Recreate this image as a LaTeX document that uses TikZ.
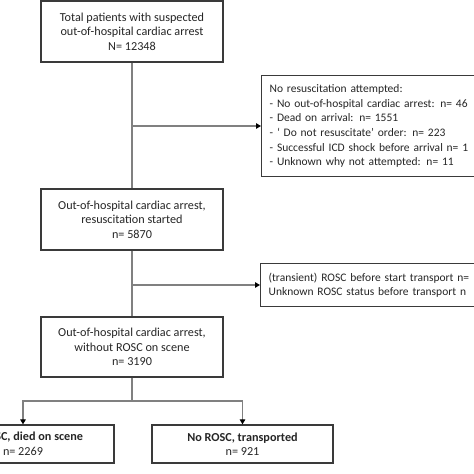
\documentclass[tikz,border=0pt]{standalone}
\usepackage{fontspec}
\setmainfont{Carlito}
\usetikzlibrary{arrows.meta}
\definecolor{conn}{HTML}{808080}
\definecolor{bord}{HTML}{3A3A3A}
\begin{document}
\begin{tikzpicture}[x=1pt,y=-1pt,
  box/.style={draw=bord,line width=1.3pt,fill=white,inner sep=0pt,align=center,
    font=\fontsize{12.2}{14.5}\selectfont,text=black!85},
  lbox/.style={draw=bord,line width=1.3pt,fill=white,inner xsep=8pt,inner ysep=0pt,align=left,
    anchor=north west,font=\fontsize{11.5}{14.7}\selectfont,text=black!85},
  conline/.style={draw=conn,line width=1.2pt},
  arr/.style={conline,-{Triangle[length=5pt,width=5.5pt,color=black]}}]
\useasboundingbox (0,0) rectangle (474,474);
\clip (0,0) rectangle (474,474);
\fill[white] (0,0) rectangle (474,474);
% main column
\node[box,minimum width=182pt,minimum height=61pt] (top) at (132,31.5)
  {Total patients with suspected\\out-of-hospital cardiac arrest\\N= 12348};
\node[box,minimum width=182pt,minimum height=61pt] (start) at (132,219.5)
  {Out-of-hospital cardiac arrest,\\resuscitation started\\n= 5870};
\node[box,minimum width=182pt,minimum height=60pt] (norosc) at (132,347)
  {Out-of-hospital cardiac arrest,\\without ROSC on scene\\n= 3190};
% side boxes
\node[lbox,text width=300pt,minimum height=101pt] (nores) at (261,75)
  {No resuscitation attempted:\\
   - No out-of-hospital cardiac arrest: n= 46\\
   - Dead on arrival: n= 1551\\
   - ‘ Do not resuscitate’ order: n= 223\\
   - Successful ICD shock before arrival n= 1\\
   - Unknown why not attempted: n= 11};
\node[lbox,text width=300pt,minimum height=43pt] (rosc) at (260,263)
  {(transient) ROSC before start transport n=\\
   Unknown ROSC status before transport n};
% bottom boxes
\node[box,minimum width=182pt,minimum height=38pt] (died) at (23,444)
  {\textbf{No ROSC, died on scene}\\n= 2269};
\node[box,minimum width=181pt,minimum height=38pt] (transp) at (242.5,444)
  {\textbf{No ROSC, transported}\\n= 921};
% connectors
\coordinate (b1) at (132,126);
\coordinate (b2) at (132,285);
\coordinate (b3) at (132,401);
\draw[conline] (top.south) -- (start.north);
\draw[arr] (b1) -- (b1 -| nores.west);
\draw[conline] (start.south) -- (norosc.north);
\draw[arr] (b2) -- (b2 -| rosc.west);
\draw[conline] (norosc.south) -- (b3);
\draw[arr] (b3) -| (died.north);
\draw[arr] (b3) -| (transp.north);
\end{tikzpicture}
\end{document}
